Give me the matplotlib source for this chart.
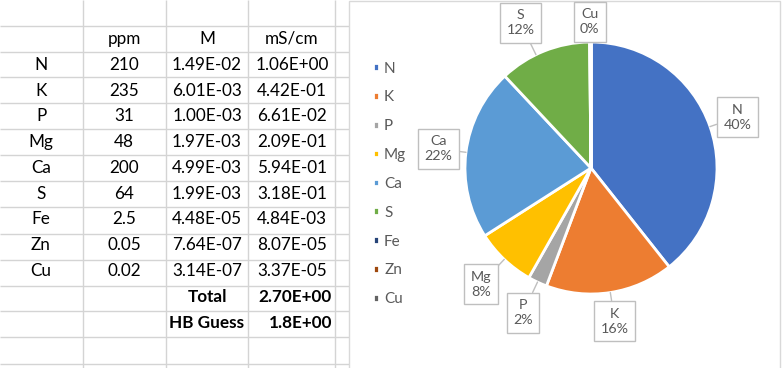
import numpy as np
import matplotlib
matplotlib.use("Agg")
import matplotlib.pyplot as plt
from matplotlib.patches import Rectangle

plt.rcParams['font.family'] = ['Lato', 'DejaVu Sans']

# table data
elements = ['N', 'K', 'P', 'Mg', 'Ca', 'S', 'Fe', 'Zn', 'Cu']
ppm = [210, 235, 31, 48, 200, 64, 2.5, 0.05, 0.02]
molar = [1.49e-02, 6.01e-03, 1.00e-03, 1.97e-03, 4.99e-03, 1.99e-03, 4.48e-05, 7.64e-07, 3.14e-07]
ms_cm = [1.06e+00, 4.42e-01, 6.61e-02, 2.09e-01, 5.94e-01, 3.18e-01, 4.84e-03, 8.07e-05, 3.37e-05]
total = 2.70
hb_guess = 1.8
headers = ['ppm', 'M', 'mS/cm']

# pie labels as shown on the chart (None = no label)
pct_labels = [40, 16, 2, 8, 22, 12, None, None, 0]

colors = ['#4472C4', '#ED7D31', '#A5A5A5', '#FFC000', '#5B9BD5',
          '#70AD47', '#264478', '#9E480E', '#636363']

W, H = 782, 368
fig = plt.figure(figsize=(W / 100, H / 100), dpi=100)
ax = fig.add_axes([0, 0, 1, 1])
ax.set_xlim(0, W)
ax.set_ylim(H, 0)
ax.axis('off')

# spreadsheet grid
grid_c = '#D4D4D4'
col_x = [83, 166, 248, 335]
row_y = [26, 52, 77, 103, 129, 155, 181, 207, 234, 260, 286, 311, 337, 364]
ax.vlines(col_x, 0, H, color=grid_c, lw=1)
ax.hlines(row_y, 0, 350, color=grid_c, lw=1)

row_h = 25.8
col_c = [41, 124, 207, 292]
fs = 12.3

def ycen(i):
    return 26 + row_h * (i + 0.5)

for j, h in enumerate(headers):
    ax.text(col_c[j + 1], ycen(0), h, ha='center', va='center', fontsize=fs)

for i, el in enumerate(elements):
    y = ycen(i + 1)
    ax.text(col_c[0], y, el, ha='center', va='center', fontsize=fs)
    ax.text(col_c[1], y, f'{ppm[i]:g}', ha='center', va='center', fontsize=fs)
    ax.text(col_c[2], y, f'{molar[i]:.2E}', ha='center', va='center', fontsize=fs)
    ax.text(col_c[3], y, f'{ms_cm[i]:.2E}', ha='center', va='center', fontsize=fs)

y = ycen(len(elements) + 1)
ax.text(col_c[2], y, 'Total', ha='center', va='center', fontsize=fs, fontweight='bold')
ax.text(332, y, f'{total:.2E}', ha='right', va='center', fontsize=fs, fontweight='bold')
y = ycen(len(elements) + 2)
ax.text(col_c[2], y, 'HB Guess', ha='center', va='center', fontsize=fs, fontweight='bold')
ax.text(332, y, f'{hb_guess:.1E}', ha='right', va='center', fontsize=fs, fontweight='bold')

# chart area
ax.add_patch(Rectangle((349, 1), 431, 400, facecolor='white', edgecolor='#D9D9D9', lw=1, zorder=3))

# pie
cx, cy, r = 591, 168, 126
pax = fig.add_axes([(cx - r) / W, 1 - (cy + r) / H, 2 * r / W, 2 * r / H])
wedges, _ = pax.pie(ms_cm, colors=colors, startangle=90, counterclock=False,
                    wedgeprops=dict(edgecolor='white', linewidth=2))
pax.set_xlim(-1, 1)
pax.set_ylim(-1, 1)
pax.set_zorder(4)

# data labels
label_r = {'N': 1.23, 'K': 1.23, 'P': 1.27, 'Mg': 1.27, 'Ca': 1.22, 'S': 1.28, 'Cu': 1.16}
label_shift = {'S': 4}
for w, el, p in zip(wedges, elements, pct_labels):
    if p is None:
        continue
    mid = np.deg2rad((w.theta1 + w.theta2) / 2)
    if el == 'Cu':
        mid = np.deg2rad(90.5)
    if el in label_shift:
        mid += np.deg2rad(label_shift[el])
    rr = label_r[el]
    tx, ty = rr * np.cos(mid), rr * np.sin(mid)
    pax.annotate(f'{el}\n{p}%', xy=(np.cos(mid), np.sin(mid)), xytext=(tx, ty),
                 ha='center', va='center', fontsize=10.3, color='#595959',
                 linespacing=1.3, annotation_clip=False,
                 bbox=dict(boxstyle='square,pad=0.45', fc='white', ec='#BFBFBF', lw=1),
                 arrowprops=dict(arrowstyle='-', color='#BFBFBF', lw=1,
                                 shrinkA=0, shrinkB=0))

# legend
leg = fig.legend(wedges, elements, loc='upper left', bbox_to_anchor=(365 / W, 1 - 54 / H),
                 frameon=False, fontsize=11, handlelength=0.4, handleheight=0.4,
                 handletextpad=0.35, labelspacing=0.97, borderpad=0)
for t in leg.get_texts():
    t.set_color('#595959')

fig.savefig('out.png', dpi=100)
